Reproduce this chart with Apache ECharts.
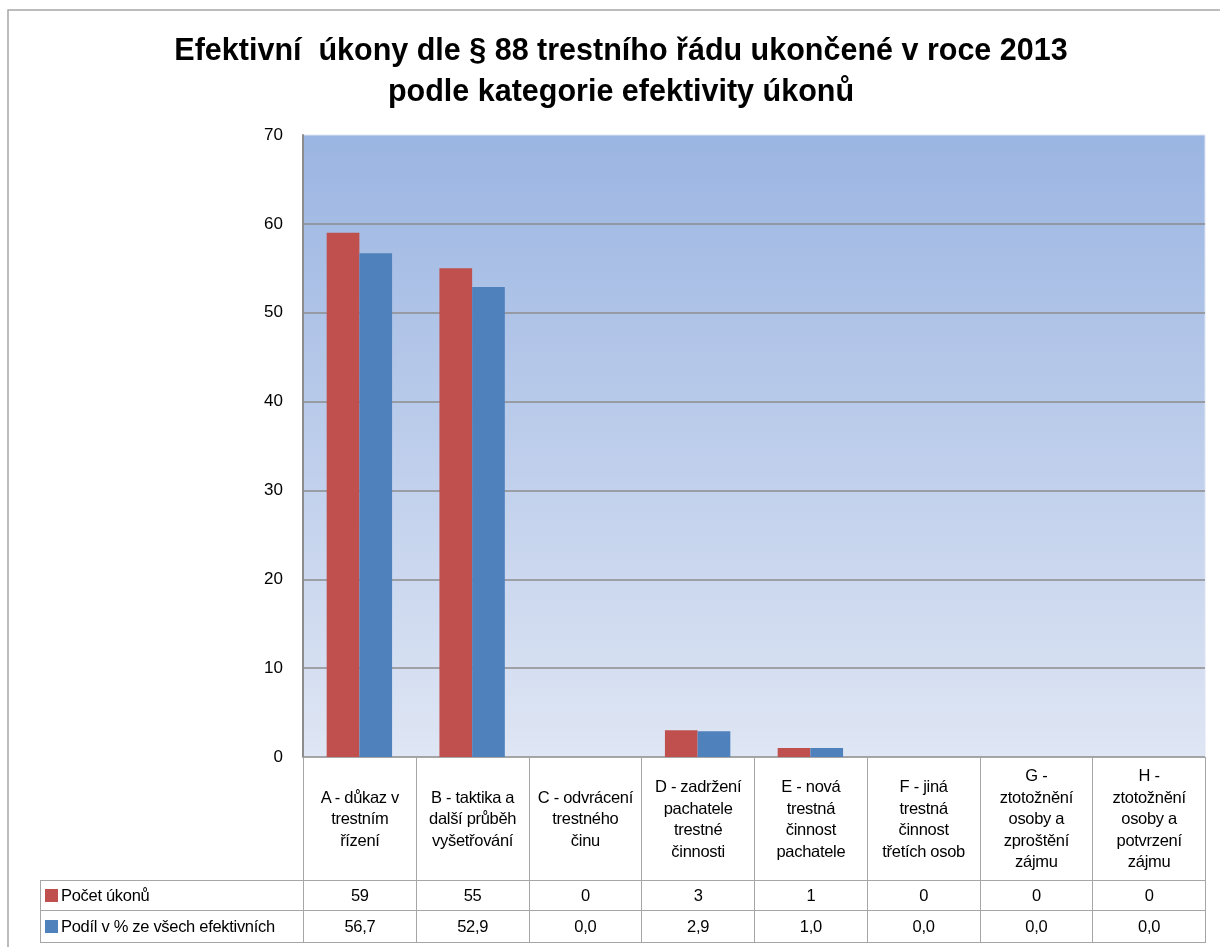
<!DOCTYPE html>
<html lang="cs">
<head>
    <meta charset="UTF-8">
    <title>Efektivní úkony dle § 88</title>
    <script src="https://cdn.jsdelivr.net/npm/echarts@6/dist/echarts.min.js"></script>
    <style>
        html, body { margin: 0; padding: 0; background: #fff; }
        #wrap { position: relative; width: 1220px; height: 947px; overflow: hidden; }
        #main { position: absolute; left: 0; top: 0; width: 1220px; height: 947px; }
        #tbl {
            position: absolute; left: 40px; top: 757px;
            border-collapse: collapse; table-layout: fixed;
            font-family: "Liberation Sans", sans-serif; font-size: 16.5px; color: #000;
            letter-spacing: -0.3px;
        }
        #tbl td { border: 1px solid #a6a6a6; text-align: center; padding: 0; }
        #tbl td.blank { border-top: none; border-left: none; border-bottom: none; }
        #tbl tr.head td { height: 122px; vertical-align: middle; line-height: 21.5px; white-space: pre-line; }
        #tbl tr.r1 td { height: 29px; }
        #tbl tr.r2 td { height: 31px; }
        #tbl td.lab { text-align: left; padding-left: 4px; white-space: nowrap; }
        .sw { display: inline-block; width: 13px; height: 13px; margin-right: 3px; vertical-align: -1px; }
    </style>
</head>
<body>
<div id="wrap">
    <div id="main"></div>
    <table id="tbl"></table>
</div>

<script type="text/javascript">
    // data
    var categories = [
        'A - důkaz v\ntrestním\nřízení',
        'B - taktika a\ndalší průběh\nvyšetřování',
        'C - odvrácení\ntrestného\nčinu',
        'D - zadržení\npachatele\ntrestné\nčinnosti',
        'E - nová\ntrestná\nčinnost\npachatele',
        'F - jiná\ntrestná\nčinnost\ntřetích osob',
        'G -\nztotožnění\nosoby a\nzproštění\nzájmu',
        'H -\nztotožnění\nosoby a\npotvrzení\nzájmu'
    ];
    var seriesNames = ['Počet úkonů', 'Podíl v % ze všech efektivních'];
    var pocetUkonu = [59, 55, 0, 3, 1, 0, 0, 0];
    var podilProcent = [56.7, 52.9, 0.0, 2.9, 1.0, 0.0, 0.0, 0.0];
    var yTicks = [0, 10, 20, 30, 40, 50, 60, 70];
    var colors = ['#c0504d', '#4f81bd'];

    var myChart = echarts.init(document.getElementById('main'));

    myChart.setOption({
        animation: false,
        title: {
            text: 'Efektivní  úkony dle § 88 trestního řádu ukončené v roce 2013\npodle kategorie efektivity úkonů',
            left: 616,
            top: 26,
            textAlign: 'center',
            textStyle: {
                fontFamily: 'Liberation Sans',
                fontSize: 30.5,
                fontWeight: 'bold',
                color: '#000',
                lineHeight: 41
            }
        },
        grid: {
            left: 303, top: 135, width: 902, height: 622,
            show: true,
            borderWidth: 1,
            borderColor: '#dde4f2',
            backgroundColor: new echarts.graphic.LinearGradient(0, 0, 0, 1, [
                {offset: 0, color: '#9bb5e2'},
                {offset: 1, color: '#dfe6f4'}
            ])
        },
        xAxis: {
            type: 'category',
            data: categories,
            axisLine: {show: false},
            axisTick: {show: false},
            axisLabel: {show: false}
        },
        yAxis: {
            type: 'value',
            min: yTicks[0],
            max: yTicks[yTicks.length - 1],
            interval: 10,
            axisLine: {show: true, lineStyle: {color: '#8c8c8c', width: 2}},
            axisTick: {show: false},
            axisLabel: {
                margin: 20,
                fontFamily: 'Liberation Sans',
                fontSize: 17,
                color: '#000'
            },
            splitLine: {showMaxLine: false, lineStyle: {color: '#8c8c8c', width: 1.5}}
        },
        series: [{
            name: seriesNames[0],
            type: 'bar',
            data: pocetUkonu,
            barGap: '0%',
            barCategoryGap: '42%',
            itemStyle: {color: colors[0]}
        }, {
            name: seriesNames[1],
            type: 'bar',
            data: podilProcent,
            barGap: '0%',
            barCategoryGap: '42%',
            itemStyle: {color: colors[1]}
        }],
        graphic: [{
            type: 'polyline',
            shape: {points: [[8, 947], [8, 10], [1220, 10]]},
            style: {stroke: '#a6a6a6', lineWidth: 1.5, fill: null}
        }]
    });

    // data table under the plot
    var colW = 902 / categories.length;
    var html = '<colgroup><col style="width:263px">';
    categories.forEach(function () { html += '<col style="width:' + colW + 'px">'; });
    html += '</colgroup>';
    html += '<tr class="head"><td class="blank"></td>';
    categories.forEach(function (c) { html += '<td>' + c + '</td>'; });
    html += '</tr>';
    html += '<tr class="r1"><td class="lab"><span class="sw" style="background:' + colors[0] + '"></span>' + seriesNames[0] + '</td>';
    pocetUkonu.forEach(function (v) { html += '<td>' + v + '</td>'; });
    html += '</tr>';
    html += '<tr class="r2"><td class="lab"><span class="sw" style="background:' + colors[1] + '"></span>' + seriesNames[1] + '</td>';
    podilProcent.forEach(function (v) { html += '<td>' + v.toFixed(1).replace('.', ',') + '</td>'; });
    html += '</tr>';
    var tbl = document.getElementById('tbl');
    tbl.style.width = (263 + 902) + 'px';
    tbl.innerHTML = html;
</script>
</body>
</html>
